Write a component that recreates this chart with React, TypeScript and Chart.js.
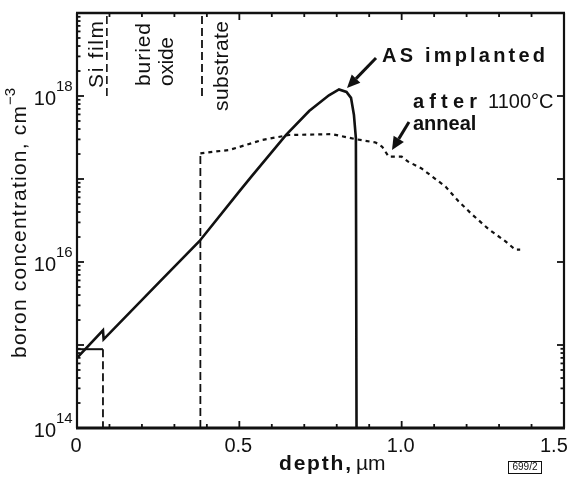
import React, { useEffect, useRef } from "react";
import { Chart, registerables } from "chart.js";

Chart.register(...registerables);

// ---- data ----
const X_TICK_VALUES = [0, 0.5, 1.0, 1.5];
const X_TICK_LABELS = ["0", "0.5", "1.0", "1.5"];
const Y_TICK_EXPONENTS = [14, 16, 18];

// as-implanted profile (solid)
const implDepth = [0.003, 0.08, 0.082, 0.255, 0.377, 0.5, 0.537, 0.644, 0.715, 0.776, 0.807, 0.83, 0.844, 0.853, 0.859, 0.861];
const implConc = [7.2e14, 1.5e15, 1.17e15, 5.8e15, 1.78e16, 7.1e16, 1.07e17, 3.4e17, 6.6e17, 1.02e18, 1.2e18, 1.12e18, 9.5e17, 5.9e17, 3.1e17, 1e14];

// after anneal: Si film part
const filmDepth = [0.0, 0.08];
const filmConc = [8.9e14, 8.9e14];
const filmDropDepth = [0.08, 0.08];
const filmDropConc = [8.9e14, 1e14];

// after anneal: substrate jump + profile
const subJumpDepth = [0.38, 0.38];
const subJumpConc = [1e14, 2.04e17];
const annealDepth = [0.38, 0.47, 0.57, 0.653, 0.785, 0.859, 0.92, 0.94, 0.96, 1.0, 1.02, 1.06, 1.135, 1.175, 1.215, 1.267, 1.319, 1.35, 1.365];
const annealConc = [2.04e17, 2.24e17, 2.95e17, 3.39e17, 3.47e17, 3.02e17, 2.75e17, 2.45e17, 1.86e17, 1.86e17, 1.62e17, 1.35e17, 8.1e16, 5.4e16, 3.8e16, 2.5e16, 1.78e16, 1.41e16, 1.41e16];

// layer boundary markers at top
const filmMarkDepth = [0.092, 0.092];
const filmMarkConc = [1e18, 1e19];
const subMarkDepth = [0.385, 0.385];
const subMarkConc = [1e18, 1e19];

const pts = (xs: number[], ys: number[]) => xs.map((x, i) => ({ x, y: ys[i] }));

const FONT = "'Liberation Sans', Arial, sans-serif";
const INK = "#111";

function drawSpaced(ctx: CanvasRenderingContext2D, text: string, x: number, y: number, width: number) {
  const chars = text.split("");
  const total = chars.reduce((s, c) => s + ctx.measureText(c).width, 0);
  const gap = chars.length > 1 ? (width - total) / (chars.length - 1) : 0;
  let cx = x;
  ctx.textAlign = "left";
  for (const c of chars) {
    ctx.fillText(c, cx, y);
    cx += ctx.measureText(c).width + gap;
  }
  return cx - gap;
}

function arrow(ctx: CanvasRenderingContext2D, x1: number, y1: number, x2: number, y2: number) {
  const ang = Math.atan2(y2 - y1, x2 - x1);
  const hl = 13, hw = 6;
  const bx = x2 - hl * Math.cos(ang), by = y2 - hl * Math.sin(ang);
  ctx.beginPath();
  ctx.moveTo(x1, y1);
  ctx.lineTo(bx, by);
  ctx.lineWidth = 3;
  ctx.strokeStyle = INK;
  ctx.stroke();
  ctx.beginPath();
  ctx.moveTo(x2, y2);
  ctx.lineTo(bx + hw * Math.sin(ang), by - hw * Math.cos(ang));
  ctx.lineTo(bx - hw * Math.sin(ang), by + hw * Math.cos(ang));
  ctx.closePath();
  ctx.fillStyle = INK;
  ctx.fill();
}

const decorPlugin = {
  id: "decor",
  afterDatasetsDraw(chart: any) {
    const ctx: CanvasRenderingContext2D = chart.ctx;
    const { left, right, top, bottom } = chart.chartArea;
    const xs = chart.scales.x;
    const ys = chart.scales.y;
    ctx.save();
    ctx.strokeStyle = INK;
    ctx.lineCap = "butt";
    const seg = (x1: number, y1: number, x2: number, y2: number, w: number) => {
      ctx.beginPath();
      ctx.lineWidth = w;
      ctx.moveTo(x1, y1);
      ctx.lineTo(x2, y2);
      ctx.stroke();
    };
    seg(left - 1, top, right + 1, top, 2.5);
    seg(left - 1, bottom, right + 1, bottom, 3);
    seg(left, top, left, bottom, 2.2);
    seg(right, top, right, bottom, 2.2);
    for (let i = 1; i < 15; i++) {
      const v = i / 10;
      const px = xs.getPixelForValue(v);
      const major = i % 5 === 0;
      const len = major ? 7 : 4;
      seg(px, bottom, px, bottom - len, 1.8);
      seg(px, top, px, top + len, 1.8);
    }
    for (let e = 14; e < 19; e++) {
      for (let m = 1; m <= 9; m++) {
        if (e === 14 && m === 1) continue;
        const v = m * Math.pow(10, e);
        const py = ys.getPixelForValue(v);
        const major = m === 1;
        seg(left, py, left + (major ? 7 : 3.5), py, 1.8);
        if (major || e === 14) seg(right, py, right - (major ? 7 : 3.5), py, 1.8);
      }
    }
    ctx.restore();
  },
  afterDraw(chart: any) {
    const ctx: CanvasRenderingContext2D = chart.ctx;
    const { bottom } = chart.chartArea;
    const xs = chart.scales.x;
    const ys = chart.scales.y;
    ctx.save();
    ctx.fillStyle = INK;
    // x tick labels
    ctx.font = `20px ${FONT}`;
    ctx.textBaseline = "middle";
    X_TICK_VALUES.forEach((v, i) => {
      const px = xs.getPixelForValue(v);
      if (i === X_TICK_VALUES.length - 1) {
        ctx.textAlign = "left";
        ctx.fillText(X_TICK_LABELS[i], 540, bottom + 18);
      } else {
        ctx.textAlign = "center";
        ctx.fillText(X_TICK_LABELS[i], px - 1, bottom + 18);
      }
    });
    // y tick labels 10^n
    Y_TICK_EXPONENTS.forEach((e) => {
      const py = ys.getPixelForValue(Math.pow(10, e));
      ctx.font = `20px ${FONT}`;
      ctx.textAlign = "right";
      ctx.textBaseline = "middle";
      ctx.fillText("10", 56, py + 3);
      ctx.font = `15px ${FONT}`;
      ctx.textAlign = "left";
      ctx.fillText(String(e), 56, py - 9);
    });
    // y title
    ctx.save();
    ctx.translate(20, 358);
    ctx.rotate(-Math.PI / 2);
    ctx.font = `21px ${FONT}`;
    ctx.textBaseline = "middle";
    const endX = drawSpaced(ctx, "boron concentration, cm", 0, 0, 252);
    ctx.font = `15px ${FONT}`;
    ctx.textAlign = "left";
    ctx.fillText("\u22123", endX + 1, -9);
    ctx.restore();
    // x title
    ctx.textBaseline = "alphabetic";
    ctx.font = `bold 21px ${FONT}`;
    drawSpaced(ctx, "depth,", 279, 470, 72);
    ctx.font = `21px ${FONT}`;
    ctx.textAlign = "left";
    ctx.fillText("\u00b5m", 356, 470);
    // 699/2 box
    ctx.font = `10px ${FONT}`;
    ctx.textAlign = "center";
    ctx.textBaseline = "middle";
    ctx.fillText("699/2", 525, 467.5);
    ctx.lineWidth = 1;
    ctx.strokeStyle = INK;
    ctx.strokeRect(508.5, 461.5, 33, 12);
    // rotated layer labels
    const vtext = (txt: string, x: number, yStart: number, len: number) => {
      ctx.save();
      ctx.translate(x, yStart);
      ctx.rotate(-Math.PI / 2);
      ctx.font = `21px ${FONT}`;
      ctx.textBaseline = "middle";
      drawSpaced(ctx, txt, 0, 0, len);
      ctx.restore();
    };
    vtext("Si film", 97, 88, 67);
    vtext("buried", 144, 86, 63);
    vtext("oxide", 167, 86, 49);
    vtext("substrate", 222, 111, 90);
    // annotations
    ctx.textBaseline = "alphabetic";
    ctx.font = `bold 20px ${FONT}`;
    drawSpaced(ctx, "AS implanted", 382, 62, 163);
    drawSpaced(ctx, "after", 413, 108, 64);
    ctx.font = `20px ${FONT}`;
    ctx.textAlign = "left";
    ctx.fillText("1100\u00b0C", 488, 108);
    ctx.font = `bold 20px ${FONT}`;
    ctx.fillText("anneal", 413, 130);
    arrow(ctx, 376, 58, 347, 88);
    arrow(ctx, 409, 122, 392, 150);
    ctx.restore();
  },
};

export default function App() {
  const ref = useRef<HTMLCanvasElement>(null);
  useEffect(() => {
    if (!ref.current) return;
    const common = { showLine: true, pointRadius: 0, fill: false, tension: 0 };
    const chart = new Chart(ref.current, {
      type: "scatter",
      data: {
        datasets: [
          { ...common, data: pts(implDepth, implConc), borderColor: INK, borderWidth: 2.6 },
          { ...common, data: pts(filmDepth, filmConc), borderColor: INK, borderWidth: 2 },
          { ...common, data: pts(filmDropDepth, filmDropConc), borderColor: INK, borderWidth: 1.8, borderDash: [8, 4] },
          { ...common, data: pts(subJumpDepth, subJumpConc), borderColor: INK, borderWidth: 1.8, borderDash: [8, 4] },
          { ...common, data: pts(annealDepth, annealConc), borderColor: INK, borderWidth: 2.2, borderDash: [4, 4] },
          { ...common, data: pts(filmMarkDepth, filmMarkConc), borderColor: INK, borderWidth: 1.6, borderDash: [8, 4] },
          { ...common, data: pts(subMarkDepth, subMarkConc), borderColor: INK, borderWidth: 1.8, borderDash: [8, 4] },
        ],
      },
      options: {
        responsive: false,
        animation: false,
        devicePixelRatio: 1,
        layout: { padding: { top: 13, right: 4, left: 0, bottom: 0 } },
        plugins: { legend: { display: false }, tooltip: { enabled: false } },
        scales: {
          x: {
            type: "linear",
            min: 0,
            max: 1.5,
            grid: { display: false },
            border: { display: false },
            ticks: { display: false },
            afterFit: (s: any) => { s.height = 54; },
          },
          y: {
            type: "logarithmic",
            min: 1e14,
            max: 1e19,
            grid: { display: false },
            border: { display: false },
            ticks: { display: false },
            afterFit: (s: any) => { s.width = 77; },
          },
        },
      } as any,
      plugins: [decorPlugin],
    });
    return () => chart.destroy();
  }, []);
  return (
    <div style={{ position: "absolute", left: 0, top: 0, width: 568, height: 482, background: "#fff" }}>
      <canvas ref={ref} width={568} height={482} style={{ display: "block" }} />
    </div>
  );
}
